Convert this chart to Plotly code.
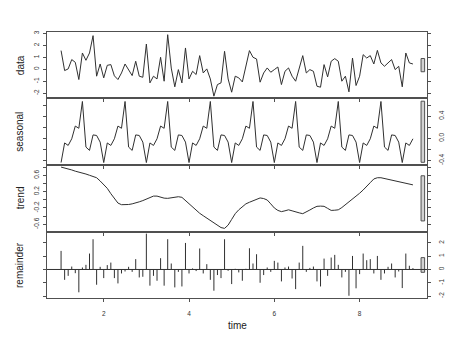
import plotly.graph_objects as go

START = 1.0
FREQ = 12

data = [1.56, -0.11, 0.03, 0.81, 0.58, -0.86, 1.36, 0.75, 1.36, 2.81,
        -0.58, 0.44, -0.72, 0.33, 0.39, -0.55, -0.86, -0.31, 0.44, -0.03,
        -0.53, 0.67, -0.58, -0.67, 2.11, -1.14, -0.58, -0.81, 1.0, -1.0,
        2.89, 0.1, -1.47, -0.03, -1.14, 1.78, -0.81, -0.17, -0.44, 1.14,
        -0.31, 0.03, -0.81, -2.25, -1.28, -1.14, 1.5, -0.81, -1.92, -0.58,
        -0.72, -1.06, 0.25, 1.56, 1.0, 0.86, -1.08, -0.31, 0.11, -0.25,
        -0.03, 0.19, -1.28, -0.17, 0.11, -0.58, -1.0, -0.03, 1.14, -0.31,
        -0.03, -0.17, -1.42, -1.5, 0.39, -0.64, 0.67, 0.89, 0.67, -1.0,
        -0.58, -1.89, 0.94, -1.36, -0.58, 1.22, 0.94, 1.14, 0.44, 1.58,
        0.53, 0.25, 0.53, 0.81, -0.03, 0.25, -1.47, 1.36, 0.53, 0.44]

seasonal = [-0.44, -0.085, -0.13, -0.01, 0.22, 0.18, 0.665, -0.16, -0.22, 0.06, 0.05, -0.07,
            -0.44, -0.085, -0.13, -0.01, 0.22, 0.18, 0.665, -0.16, -0.22, 0.06, 0.05, -0.07,
            -0.44, -0.085, -0.13, -0.01, 0.22, 0.18, 0.665, -0.16, -0.22, 0.06, 0.05, -0.07,
            -0.44, -0.085, -0.13, -0.01, 0.22, 0.18, 0.665, -0.16, -0.22, 0.06, 0.05, -0.07,
            -0.44, -0.085, -0.13, -0.01, 0.22, 0.18, 0.665, -0.16, -0.22, 0.06, 0.05, -0.07,
            -0.44, -0.085, -0.13, -0.01, 0.22, 0.18, 0.665, -0.16, -0.22, 0.06, 0.05, -0.07,
            -0.44, -0.085, -0.13, -0.01, 0.22, 0.18, 0.665, -0.16, -0.22, 0.06, 0.05, -0.07,
            -0.44, -0.085, -0.13, -0.01, 0.22, 0.18, 0.665, -0.16, -0.22, 0.06, 0.05, -0.07,
            -0.44, -0.085, -0.13, -0.01]

trend = [0.80, 0.78, 0.76, 0.73, 0.70, 0.68, 0.66, 0.63, 0.60, 0.57,
         0.54, 0.46, 0.38, 0.28, 0.15, 0.03, -0.08, -0.12, -0.125, -0.115,
         -0.10, -0.08, -0.05, -0.02, 0.02, 0.06, 0.09, 0.09, 0.06, 0.04,
         0.035, 0.045, 0.06, 0.075, 0.06, -0.02, -0.10, -0.19, -0.27, -0.33,
         -0.39, -0.45, -0.51, -0.56, -0.63, -0.68, -0.70, -0.62, -0.48, -0.34,
         -0.245, -0.17, -0.10, -0.06, -0.02, 0.02, 0.045, 0.03, -0.005, -0.10,
         -0.20, -0.26, -0.29, -0.27, -0.245, -0.27, -0.30, -0.32, -0.34, -0.30,
         -0.25, -0.20, -0.16, -0.155, -0.16, -0.21, -0.26, -0.255, -0.245, -0.19,
         -0.12, -0.06, 0.01, 0.075, 0.16, 0.24, 0.32, 0.42, 0.51, 0.54,
         0.54, 0.52, 0.50, 0.48, 0.47, 0.45, 0.43, 0.41, 0.39, 0.365]

remainder = [1.4, -0.78, -0.48, 0.22, -0.28, -1.72, 0.15, 0.35, 1.2, 2.28,
             -1.15, 0.2, -0.65, 0.33, 0.52, -0.65, -1.05, -0.3, -0.15, 0.2,
             -0.18, 0.78, -0.6, -0.55, 2.7, -1.22, -0.48, -0.85, 0.85, -1.22,
             2.28, 0.45, -1.35, -0.18, -1.28, 2.0, -0.3, 0.08, -0.12, 1.58,
             -0.3, 0.4, -0.78, -1.6, -0.42, -0.65, 2.28, -0.1, -1.1, 0.05,
             -0.22, -0.85, 0.05, 1.6, 0.45, 1.15, -1.0, -0.42, 0.15, -0.18,
             0.65, 0.52, -0.9, 0.15, 0.22, -0.68, -1.48, 0.52, 1.78, -0.18,
             0.12, 0.22, -0.9, -1.28, 0.82, -0.48, 0.9, 1.1, 0.35, -0.6,
             -0.18, -1.98, 1.02, -1.42, -0.35, 1.2, 0.7, 0.78, -0.3, 1.02,
             -0.78, -0.3, 0.2, 0.45, -0.6, -0.15, -1.4, 1.2, 0.28, 0.1]

panel_labels = ["data", "seasonal", "trend", "remainder"]
x_tickvals = [2, 4, 6, 8]
y_ticks = [
    ([-2, -1, 0, 1, 2, 3], ["-2", "-1", "0", "1", "2", "3"]),
    ([-0.4, -0.2, 0.0, 0.2, 0.4, 0.6], ["-0.4", "", "0.0", "", "0.4", ""]),
    ([-0.6, -0.4, -0.2, 0.0, 0.2, 0.4, 0.6, 0.8], ["-0.6", "", "-0.2", "", "0.2", "", "0.6", ""]),
    ([-2, -1, 0, 1, 2], ["-2", "-1", "0", "1", "2"]),
]

time = [START + i / FREQ for i in range(len(data))]

W, H = 474, 345
x_range = [0.67, 9.58]
y_ranges = [[-2.44, 3.13], [-0.485, 0.72], [-0.78, 0.85], [-2.17, 2.85]]
left_px, right_px = 47, 427
panel_px = [(30, 97), (97, 164), (164, 231), (231, 298)]

FONT = "Liberation Sans, Arial, sans-serif"
LINE = "#303030"
AX = "#505050"

fig = go.Figure()
series = [data, seasonal, trend]
for i, s in enumerate(series):
    fig.add_trace(go.Scatter(x=time, y=s, mode="lines",
                             line=dict(color=LINE, width=1),
                             xaxis="x" if i == 0 else f"x{i+1}",
                             yaxis="y" if i == 0 else f"y{i+1}",
                             showlegend=False, hoverinfo="skip"))

# remainder as vertical spikes (type "h")
rx, ry = [], []
for t, r in zip(time, remainder):
    rx += [t, t, None]
    ry += [0, r, None]
fig.add_trace(go.Scatter(x=rx, y=ry, mode="lines",
                         line=dict(color=LINE, width=1),
                         xaxis="x4", yaxis="y4", showlegend=False, hoverinfo="skip"))

all_series = [data, seasonal, trend, remainder]
bar_h = min(max(s) - min(s) for s in all_series)
dx = (x_range[1] - x_range[0]) / 64.0

layout = dict(width=W, height=H, margin=dict(l=0, r=0, t=0, b=0),
              paper_bgcolor="white", plot_bgcolor="white", showlegend=False,
              font=dict(family=FONT, color="#333"))
shapes = []
annotations = []
for i in range(4):
    sx = "" if i == 0 else str(i + 1)
    top, bot = panel_px[i]
    dom_y = [1 - bot / H, 1 - top / H]
    right = (i % 2 == 1)
    layout[f"xaxis{sx}"] = dict(
        domain=[left_px / W, right_px / W], range=x_range, anchor=f"y{sx}",
        showline=True, linecolor=AX, linewidth=1, mirror=True,
        ticks="outside", ticklen=3, tickcolor=AX, tickwidth=1,
        tickvals=x_tickvals, ticktext=[str(v) for v in x_tickvals],
        showticklabels=(i == 3), tickfont=dict(size=6.5, color="#333"),
        ticklabelstandoff=6,
        showgrid=False, zeroline=False, fixedrange=True)
    tv, tt = y_ticks[i]
    layout[f"yaxis{sx}"] = dict(
        domain=dom_y, range=y_ranges[i], anchor=f"x{sx}",
        side="right" if right else "left",
        showline=True, linecolor=AX, linewidth=1, mirror="ticks",
        ticks="outside", ticklen=3, tickcolor=AX, tickwidth=1,
        tickvals=tv, ticktext=tt, tickangle=-90,
        tickfont=dict(size=6.5, color="#333"),
        ticklabelstandoff=5 if right else 1,
        showgrid=False, zeroline=False, fixedrange=True)
    # range bar
    mid = sum(y_ranges[i]) / 2
    shapes.append(dict(type="rect", xref=f"x{sx}", yref=f"y{sx}",
                       x0=x_range[1] - dx, x1=x_range[1] - 0.4 * dx,
                       y0=mid - bar_h / 2, y1=mid + bar_h / 2,
                       fillcolor="#d3d3d3", line=dict(color=AX, width=1)))
    annotations.append(dict(text=panel_labels[i], xref="paper", yref="paper",
                            x=20 / W, y=1 - (top + bot) / 2 / H,
                            textangle=-90, showarrow=False,
                            font=dict(size=10, color="#222"),
                            xanchor="center", yanchor="middle"))

# zero line in remainder panel
shapes.append(dict(type="line", xref="x4 domain", yref="y4", x0=0, x1=1, y0=0, y1=0,
                   line=dict(color=LINE, width=1)))
annotations.append(dict(text="time", xref="paper", yref="paper",
                        x=(left_px + right_px) / 2 / W, y=1 - 325 / H,
                        showarrow=False, font=dict(size=10, color="#222"),
                        xanchor="center", yanchor="middle"))
layout["shapes"] = shapes
layout["annotations"] = annotations
fig.update_layout(**layout)
fig.write_html("out.html")
